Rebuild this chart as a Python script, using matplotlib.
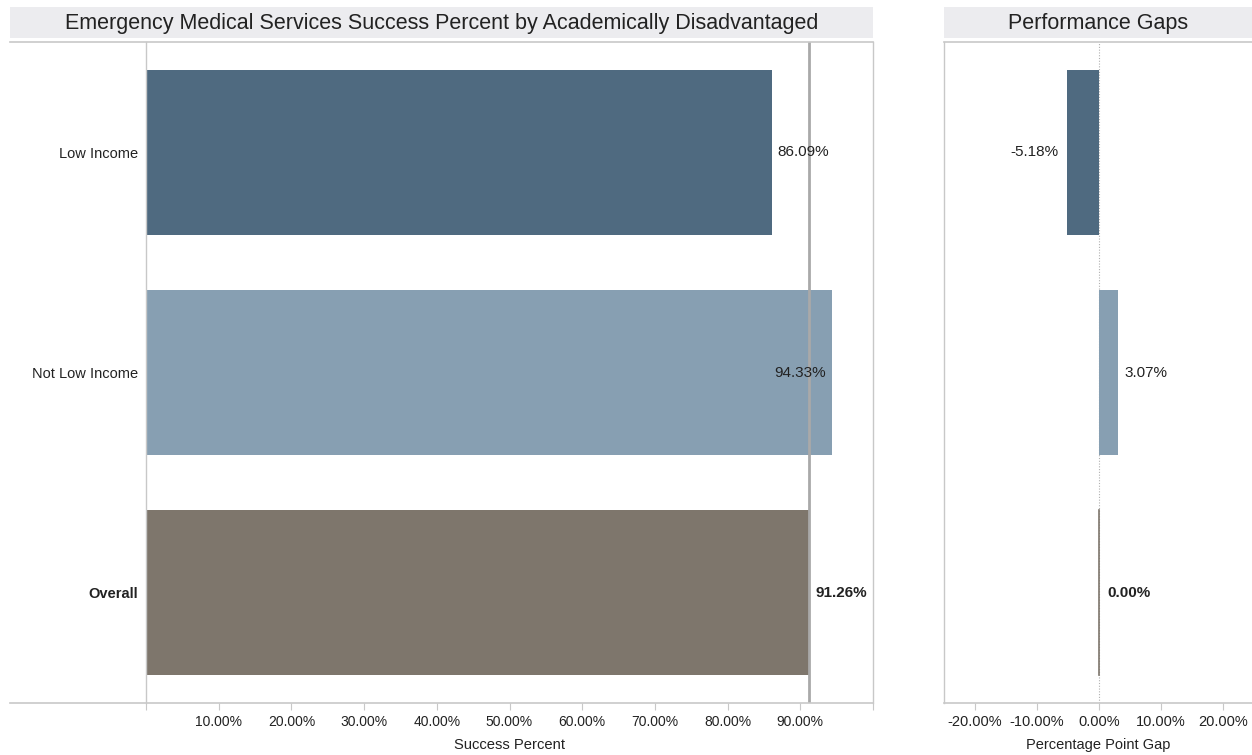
import matplotlib.pyplot as plt
from matplotlib.patches import Rectangle
from matplotlib.lines import Line2D
import numpy as np

plt.rcParams['font.family'] = ['Liberation Sans', 'DejaVu Sans']

# data
categories = ['Low Income', 'Not Low Income', 'Overall']
success = [0.8609, 0.9433, 0.9126]
gaps = [-0.0518, 0.0307, 0.0]
overall_ref = 0.9126
colors = ['#4f6a80', '#879fb2', '#7e766c']

W, H = 1252, 755
fig = plt.figure(figsize=(W / 100, H / 100), dpi=100)

def fx(px):
    return px / W

def fy(py):
    return 1 - py / H

spine_c = '#c8c8c8'
band_c = '#ececef'
txt_c = '#222222'

# axes rectangles in pixels
L_left, L_right, A_top, A_bot = 146, 873, 42, 703
R_left, R_right = 944, 1252

ax1 = fig.add_axes([fx(L_left), fy(A_bot), fx(L_right - L_left), (A_bot - A_top) / H])
ax2 = fig.add_axes([fx(R_left), fy(A_bot), fx(R_right - R_left), (A_bot - A_top) / H])

y = np.arange(len(categories))

# ---- left panel
ax1.barh(y, success, height=0.75, color=colors, zorder=2)
ax1.axvline(overall_ref, color='#a9a9a9', lw=2, zorder=3)
ax1.set_xlim(0, 1.0)
ax1.set_ylim(len(categories) - 0.5, -0.5)
ax1.set_xticks(np.arange(0, 1.01, 0.1))
ax1.set_xticklabels([''] + ['%.2f%%' % (v * 100) for v in np.arange(0.1, 0.95, 0.1)] + [''])
ax1.set_yticks(y)
ax1.set_yticklabels(categories)
ax1.tick_params(axis='y', length=0, pad=6, labelsize=10.5, labelcolor=txt_c)
ax1.tick_params(axis='x', length=5, color=spine_c, labelsize=10, labelcolor=txt_c, pad=4)
for lbl in ax1.get_yticklabels():
    if lbl.get_text() == 'Overall':
        lbl.set_fontweight('bold')
ax1.set_xlabel('Success Percent', fontsize=10.6, color=txt_c, labelpad=6)

for i, v in enumerate(success):
    txt = '%.2f%%' % (v * 100)
    if categories[i] == 'Not Low Income':
        ax1.text(v - 0.008, i, txt, ha='right', va='center', fontsize=11, color=txt_c, zorder=4)
    else:
        ax1.text(v + 0.008, i, txt, ha='left', va='center', fontsize=11, color=txt_c,
                 fontweight='bold' if categories[i] == 'Overall' else 'normal', zorder=4)

# ---- right panel
ax2.barh(y, gaps, height=0.75, color=colors, zorder=2)
ax2.plot([0, 0], [2 - 0.375, 2 + 0.375], color='#7e766c', lw=1.2, zorder=3)
ax2.axvline(0, color='#b0b0b0', lw=0.8, ls=(0, (1, 1.5)), zorder=1)
ax2.set_xlim(-0.25, 0.247)
ax2.set_ylim(len(categories) - 0.5, -0.5)
ax2.set_xticks(np.arange(-0.2, 0.21, 0.1))
ax2.set_xticklabels(['%.2f%%' % (v * 100) for v in np.arange(-0.2, 0.21, 0.1)])
ax2.set_yticks([])
ax2.tick_params(axis='x', length=5, color=spine_c, labelsize=10.5, labelcolor=txt_c, pad=4)
ax2.set_xlabel('Percentage Point Gap', fontsize=10.5, color=txt_c, labelpad=6)

for i, v in enumerate(gaps):
    txt = '%.2f%%' % (v * 100)
    if v < 0:
        ax2.text(v - 0.013, i, txt, ha='right', va='center', fontsize=11, color=txt_c)
    else:
        off = 0.013 if v == 0 else 0.011
        ax2.text(v + off, i, txt, ha='left', va='center', fontsize=11, color=txt_c,
                 fontweight='bold' if categories[i] == 'Overall' else 'normal')

for ax in (ax1, ax2):
    for s in ax.spines.values():
        s.set_color(spine_c)
        s.set_linewidth(1)
ax1.spines['top'].set_visible(False)
ax1.spines['bottom'].set_visible(False)
ax2.spines['top'].set_visible(False)
ax2.spines['bottom'].set_visible(False)
ax2.spines['right'].set_visible(False)

# extended frame lines (top and bottom) in figure coords
for (x0, x1) in [(10, L_right), (R_left, R_right)]:
    for yy in (A_top, A_bot):
        fig.add_artist(Line2D([fx(x0), fx(x1)], [fy(yy), fy(yy)], color=spine_c, lw=1.2))

# title bands
for (x0, x1, title) in [(10, L_right, 'Emergency Medical Services Success Percent by Academically Disadvantaged'),
                        (R_left, R_right, 'Performance Gaps')]:
    fig.add_artist(Rectangle((fx(x0), fy(38)), fx(x1 - x0), 31 / H, color=band_c, lw=0))
    fig.text(fx((x0 + x1) / 2), fy(23), title, ha='center', va='center', fontsize=15.5, color=txt_c)

fig.savefig('out.png', dpi=100)
